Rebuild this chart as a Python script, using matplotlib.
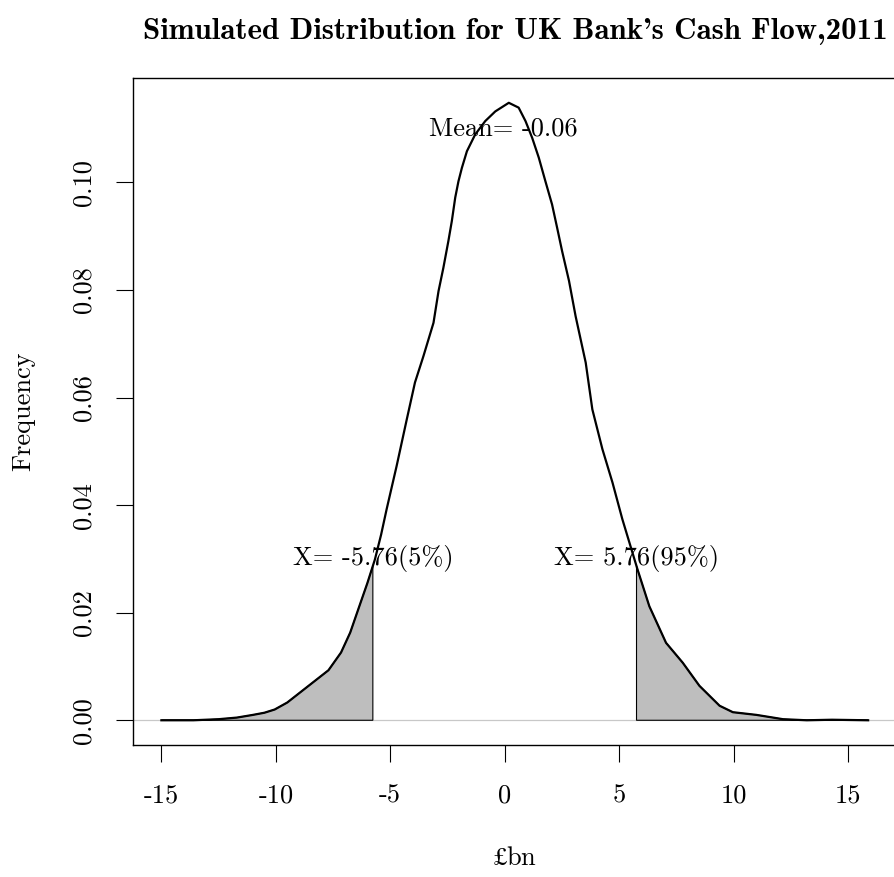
import numpy as np
import matplotlib
matplotlib.use('Agg')
import matplotlib.pyplot as plt

# simulated cash flow density (GBP bn)
cash_flow = [-15.0, -13.6, -12.5, -11.7, -11.0, -10.5, -10.05, -9.5, -8.9, -8.3,
             -7.7, -7.15, -6.75, -6.4, -6.0, -5.67, -5.4, -5.16, -4.72, -4.28,
             -3.92, -3.55, -3.11, -2.89, -2.68, -2.46, -2.31, -2.16, -2.02, -1.87,
             -1.65, -1.29, -0.85, -0.41, 0.18, 0.61, 0.91, 1.20, 1.49, 1.78,
             2.07, 2.29, 2.51, 2.81, 3.10, 3.54, 3.83, 4.27, 4.71, 5.14,
             5.58, 5.80, 6.32, 7.05, 7.78, 8.51, 9.39, 9.97, 11.0, 12.16,
             13.2, 14.3, 15.88]
density = [0.0000, 0.0000, 0.0002, 0.0005, 0.0010, 0.0014, 0.0020, 0.0033, 0.0053, 0.0073,
           0.0093, 0.0126, 0.0163, 0.0206, 0.0255, 0.0299, 0.0345, 0.0392, 0.0473, 0.0559,
           0.0628, 0.0677, 0.0739, 0.0798, 0.0841, 0.0891, 0.0928, 0.0972, 0.1002, 0.1027,
           0.1058, 0.1089, 0.1114, 0.1132, 0.1148, 0.1139, 0.1114, 0.1083, 0.1046, 0.1002,
           0.0959, 0.0916, 0.0872, 0.0817, 0.0751, 0.0665, 0.0578, 0.0504, 0.0442, 0.0374,
           0.0312, 0.0281, 0.0212, 0.0144, 0.0107, 0.0064, 0.0027, 0.0015, 0.0010, 0.0002,
           0.0000, 0.0001, 0.0000]

mean_value = -0.06
var_lo, var_hi = -5.76, 5.76
x_ticks = [-15, -10, -5, 0, 5, 10, 15]
y_ticks = [0.00, 0.02, 0.04, 0.06, 0.08, 0.10]

plt.rcParams['font.family'] = ['cmr10', 'DejaVu Serif']
plt.rcParams['axes.unicode_minus'] = False
plt.rcParams['mathtext.fontset'] = 'cm'

x = np.array(cash_flow)
y = np.array(density)

fig = plt.figure(figsize=(8.95, 8.77), dpi=100)
ax = fig.add_axes([0.1486, 0.1505, 0.8536, 0.7605])

ax.axhline(0, color='#c8c8c8', lw=0.9, zorder=1)
ax.plot(x, y, color='black', lw=1.6, solid_joinstyle='round', zorder=3)

# shaded tails below the 5% and above the 95% points
for lo, hi in [(x[0], var_lo), (var_hi, x[-1])]:
    m = (x > lo) & (x < hi)
    px = np.concatenate([[lo], x[m], [hi]])
    py = np.interp(px, x, y)
    px = np.concatenate([px, [hi, lo]])
    py = np.concatenate([py, [0, 0]])
    ax.fill(px, py, facecolor='#bebebe', edgecolor='black', lw=0.8, zorder=2)

ax.text(mean_value, 0.11, 'Mean= %.2f' % mean_value, ha='center', va='center', fontsize=19, zorder=4)
ax.text(var_lo, 0.03, 'X= %.2f(5%%)' % var_lo, ha='center', va='center', fontsize=19, zorder=4)
ax.text(var_hi, 0.03, 'X= %.2f(95%%)' % var_hi, ha='center', va='center', fontsize=19, zorder=4)

ax.set_xlim(-16.24, 17.14)
ax.set_ylim(-0.0046, 0.1194)
ax.set_xticks(x_ticks)
ax.set_xticklabels([str(t) for t in x_ticks])
ax.set_yticks(y_ticks)
ax.set_yticklabels(['%.2f' % t for t in y_ticks], rotation=90, va='center')
ax.tick_params(length=12, width=0.8, labelsize=19)
ax.tick_params(axis='x', pad=16)
ax.tick_params(axis='y', pad=15)
for s in ax.spines.values():
    s.set_linewidth(1.0)

# the pound sign is not in cmr10, take it from STIX
ax.set_xlabel('$£$bn', fontsize=19, labelpad=28, math_fontfamily='stix')
ax.set_ylabel('Frequency', fontsize=19, labelpad=26)
ax.set_title("Simulated Distribution for UK Bank's Cash Flow,2011",
             fontsize=22.3, fontfamily=['cmb10', 'DejaVu Serif'], pad=28)

fig.savefig('out.png')
